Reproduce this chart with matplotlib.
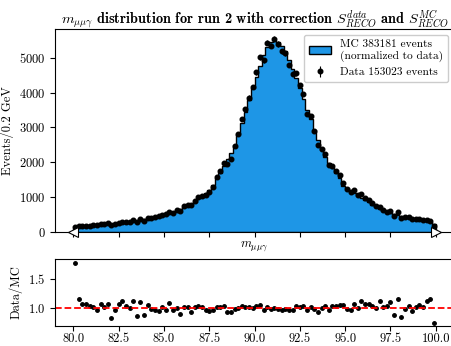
import numpy as np
import matplotlib
matplotlib.use("Agg")
import matplotlib.pyplot as plt

plt.rcParams['font.family'] = 'serif'
plt.rcParams['font.serif'] = ['cmr10']
plt.rcParams['mathtext.fontset'] = 'cm'
plt.rcParams['axes.formatter.use_mathtext'] = True
plt.rcParams['font.size'] = 9

x_lo, x_hi, n_bins = 80.0, 100.0, 100

mc_counts = [75, 135, 150, 160, 170, 180, 195, 205, 215, 220,
             225, 225, 240, 250, 265, 280, 300, 320, 340, 360,
             380, 400, 430, 460, 480, 510, 530, 560, 610, 660,
             710, 760, 810, 860, 980, 1010, 1100, 1200, 1330, 1530,
             1700, 1900, 2080, 2260, 2500, 2800, 3110, 3450, 3780, 4120,
             4450, 4770, 5080, 5320, 5460, 5490, 5450, 5340, 5180, 4940,
             4680, 4420, 4120, 3800, 3500, 3250, 2930, 2640, 2350, 2160,
             1970, 1820, 1680, 1530, 1320, 1250, 1180, 1100, 1030, 960,
             900, 840, 780, 720, 640, 600, 560, 540, 510, 490,
             460, 430, 400, 380, 360, 340, 330, 300, 270, 230]

ratio = [1.77, 1.16, 1.08, 1.07, 1.03, 1.02, 0.97, 1.07, 1.02, 1.08,
         0.84, 0.97, 1.07, 1.13, 1.04, 1.00, 1.13, 0.87, 1.11, 0.89,
         1.05, 0.99, 0.97, 0.96, 1.02, 0.97, 1.09, 0.97, 1.01, 0.91,
         1.02, 1.02, 0.94, 1.02, 1.03, 1.02, 0.97, 0.96, 0.97, 1.02,
         1.02, 1.04, 0.93, 0.93, 0.98, 1.00, 1.04, 1.02, 1.02, 1.01,
         1.03, 1.05, 0.97, 1.02, 0.98, 1.01, 0.99, 0.97, 0.99, 0.97,
         0.97, 1.03, 1.02, 1.04, 0.97, 1.02, 0.99, 0.94, 1.01, 1.04,
         0.97, 1.03, 1.03, 1.06, 1.05, 0.99, 0.97, 1.08, 1.01, 1.12,
         1.08, 1.08, 1.04, 1.01, 1.13, 1.02, 1.03, 1.11, 0.88, 1.15,
         0.86, 0.99, 1.03, 0.96, 1.02, 1.06, 1.02, 1.13, 1.16, 0.75]

mc_label = "MC 383181 events\n(normalized to data)"
data_label = "Data 153023 events"
title = (r"$m_{\mu\mu\gamma}$ distribution for run 2 with correction "
         r"$S^{data}_{RECO}$ and $S^{MC}_{RECO}$")

edges = np.linspace(x_lo, x_hi, n_bins + 1)
centers = 0.5 * (edges[:-1] + edges[1:])
mc = np.array(mc_counts, dtype=float)
rat = np.array(ratio)
data = mc * rat
err = np.sqrt(data)

fig = plt.figure(figsize=(4.52, 3.46), dpi=100)
ax = fig.add_axes([55.3 / 452, 1 - 231.7 / 346, 398.5 / 452, 202.7 / 346])
axr = fig.add_axes([55.3 / 452, 1 - 326 / 346, 398.5 / 452, 67 / 346])

ax.hist(centers, bins=edges, weights=mc, histtype='stepfilled',
        facecolor='#1e96e6', edgecolor='black', linewidth=1.0, label=mc_label)
ax.errorbar(centers, data, yerr=err, fmt='o', color='black', ms=3.3,
            elinewidth=0.8, capsize=0, label=data_label)
ax.plot([x_lo], [0], marker='<', mfc='white', mec='black', ms=7.5, mew=0.8,
        clip_on=False, zorder=6)
ax.plot([x_hi], [0], marker='>', mfc='white', mec='black', ms=7.5, mew=0.8,
        clip_on=False, zorder=6)
ax.set_xlim(79, 101)
ax.set_ylim(0, 5825)
ax.set_xticks([80, 82.5, 85, 87.5, 90, 92.5, 95, 97.5, 100])
ax.tick_params(labelbottom=False)
ax.set_xlabel(r"$m_{\mu\mu\gamma}$", labelpad=2)
ax.set_ylabel("Events/0.2 GeV")
ax.set_title(title, fontfamily='cmb10', fontsize=10.3, pad=4)
ax.legend(loc='upper right', fontsize=8.2, framealpha=1.0)

axr.plot(centers, rat, 'o', color='black', ms=2.5)
axr.axhline(1.0, color='red', linestyle='--', linewidth=1.3)
axr.set_xlim(79, 101)
axr.set_ylim(0.70, 1.833)
axr.set_xticks([80, 82.5, 85, 87.5, 90, 92.5, 95, 97.5, 100])
axr.set_xticklabels(["80.0", "82.5", "85.0", "87.5", "90.0", "92.5", "95.0", "97.5", "100.0"])
axr.tick_params(axis='x', pad=1.5)
axr.set_yticks([1.0, 1.5])
axr.set_ylabel("Data/MC")

fig.savefig("out.png", dpi=100)
